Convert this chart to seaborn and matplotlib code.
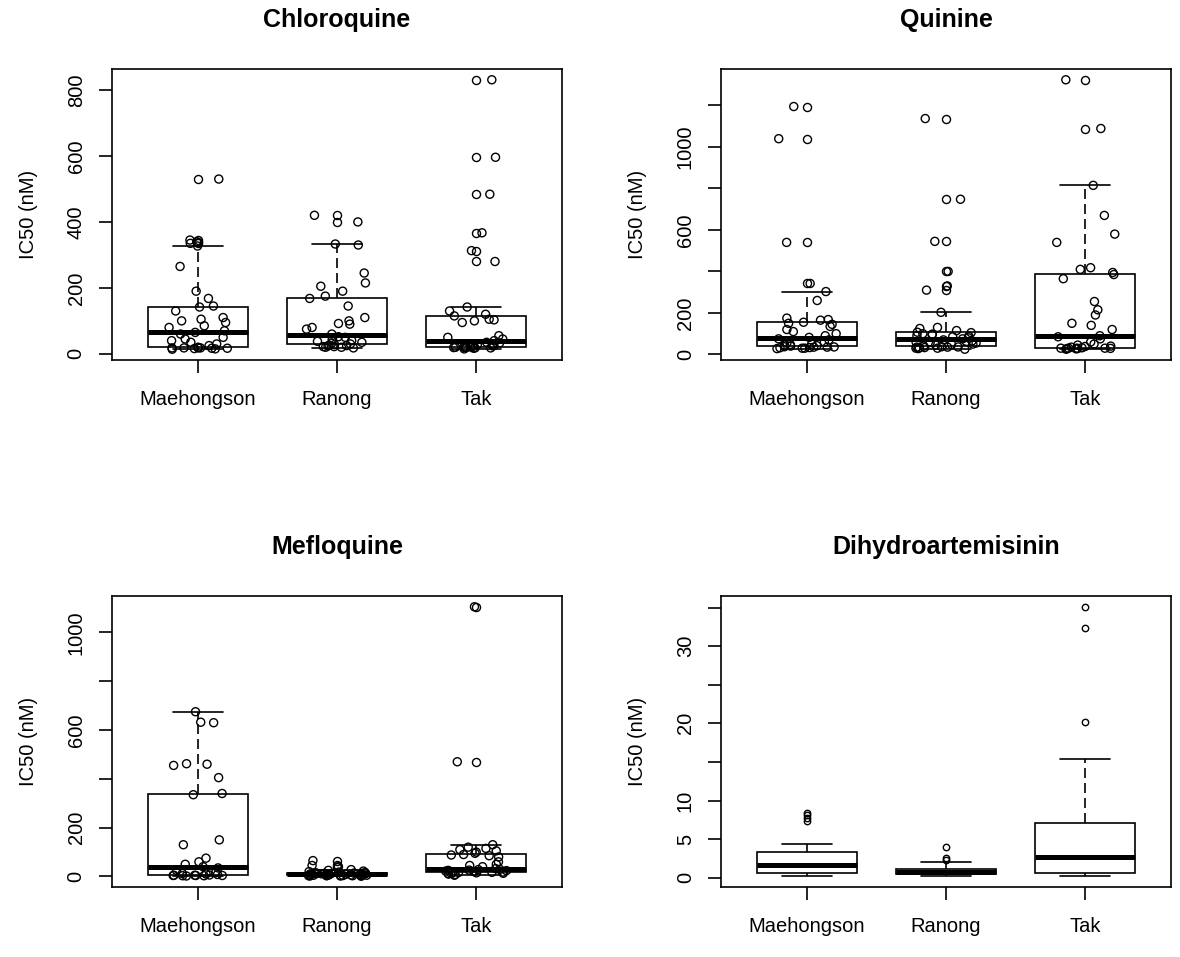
import numpy as np
import pandas as pd
import matplotlib
matplotlib.use("Agg")
import matplotlib.pyplot as plt
import seaborn as sns

sites = ["Maehongson", "Ranong", "Tak"]

# IC50 (nM) per site
cq_maehongson = [14, 15, 16, 17, 17, 18, 18, 18, 18, 20, 25, 30, 35, 40, 45, 50, 60, 65,
                 70, 80, 85, 95, 100, 105, 110, 130, 142, 145, 168, 190, 265, 327, 335, 340, 345, 530]
cq_ranong = [18, 20, 20, 22, 22, 24, 25, 26, 28, 30, 32, 35, 38, 40, 42, 45, 50, 52,
             60, 75, 80, 90, 92, 100, 110, 145, 168, 175, 190, 205, 215, 245, 330, 333, 400, 420]
cq_tak = [15, 17, 18, 18, 19, 19, 20, 20, 20, 21, 22, 24, 25, 27, 28, 30, 33, 35,
          40, 45, 50, 55, 95, 100, 103, 105, 115, 120, 130, 142, 280, 313, 367, 484, 596, 831]

qn_maehongson = [28, 30, 30, 32, 33, 35, 35, 36, 37, 40, 42, 45, 48, 50, 55, 60, 70, 75,
                 82, 90, 100, 110, 120, 135, 145, 150, 155, 165, 168, 175, 260, 303, 342, 540, 1040, 1195]
qn_ranong = [25, 28, 30, 30, 32, 33, 35, 35, 36, 37, 40, 45, 48, 50, 55, 58, 60, 62, 65, 70,
             75, 80, 85, 88, 90, 95, 98, 100, 105, 107, 115, 125, 130, 203, 310, 330, 400, 545, 748, 1137]
qn_tak = [25, 27, 28, 28, 29, 30, 30, 30, 30, 32, 35, 38, 40, 45, 50, 60, 75, 85,
          90, 120, 140, 150, 190, 215, 255, 365, 385, 395, 410, 418, 540, 580, 670, 815, 1089, 1324]

mq_maehongson = [2, 3, 3, 4, 4, 4, 5, 5, 6, 8, 10, 12, 15, 25, 35, 40, 50, 60, 75, 130,
                 150, 335, 340, 405, 455, 460, 462, 630, 632, 675]
mq_ranong = [1, 2, 2, 3, 3, 3, 4, 4, 4, 4, 5, 5, 6, 6, 7, 7, 8, 8, 9, 9,
             10, 10, 11, 11, 12, 12, 13, 13, 14, 14, 15, 16, 18, 20, 22, 25, 28, 40, 45, 65]
mq_tak = [5, 8, 10, 12, 13, 14, 15, 15, 16, 17, 18, 20, 22, 24, 25, 26, 28, 29,
          32, 40, 45, 50, 60, 80, 85, 88, 90, 95, 100, 105, 110, 115, 120, 130, 470, 1105]

dha_maehongson = [0.2, 0.3, 0.4, 0.5, 0.5, 0.6, 0.6, 0.6, 0.7, 0.9, 1.1, 1.2, 1.4, 1.5, 1.6,
                  1.7, 1.8, 2.0, 2.2, 2.5, 2.8, 3.2, 3.3, 3.4, 3.8, 4.4, 7.4, 7.8, 8.1, 8.4]
dha_ranong = [0.25, 0.3, 0.3, 0.35, 0.35, 0.4, 0.4, 0.4, 0.4, 0.45, 0.5, 0.5, 0.55, 0.6, 0.6,
              0.65, 0.7, 0.7, 0.75, 0.8, 0.8, 0.85, 0.9, 0.95, 1.0, 1.0, 1.1, 1.15, 1.2, 1.4,
              1.6, 1.8, 2.1, 2.3, 2.6, 4.0]
dha_tak = [0.25, 0.3, 0.4, 0.45, 0.5, 0.55, 0.6, 0.6, 0.65, 0.8, 1.0, 1.3, 1.7, 2.0, 2.5,
           2.9, 3.3, 3.8, 4.5, 5.0, 6.0, 7.0, 7.2, 8.5, 9.5, 11.0, 15.4, 20.2, 32.3, 35.1]

# y ticks (R drops labels that would overlap)
cq_ticks = [0, 200, 400, 600, 800]
cq_labels = ["0", "200", "400", "600", "800"]
qn_ticks = [0, 200, 400, 600, 800, 1000, 1200]
qn_labels = ["0", "200", "", "600", "", "1000", ""]
mq_ticks = [0, 200, 400, 600, 800, 1000]
mq_labels = ["0", "200", "", "600", "", "1000"]
dha_ticks = [0, 5, 10, 15, 20, 25, 30, 35]
dha_labels = ["0", "5", "10", "", "20", "", "30", ""]

sns.set_theme(style="ticks")
plt.rcParams["font.family"] = ["Liberation Sans", "DejaVu Sans"]
plt.rcParams.update({"text.color": "black", "axes.labelcolor": "black",
                     "xtick.color": "black", "ytick.color": "black",
                     "xtick.labelcolor": "black", "ytick.labelcolor": "black"})
np.random.seed(7)

W, H = 1180, 957
fig = plt.figure(figsize=(W / 100, H / 100), dpi=100)
fig.patch.set_facecolor("white")


def make_ax(left, top, w=450, h=291):
    return fig.add_axes([left / W, 1 - (top + h) / H, w / W, h / H])


def panel(ax, title, groups, ticks, labels, strip, fsize):
    df = pd.DataFrame({
        "site": np.repeat(sites, [len(g) for g in groups]),
        "ic50": np.concatenate([np.asarray(g, float) for g in groups]),
    })
    sns.boxplot(data=df, x="site", y="ic50", order=sites, ax=ax, width=0.72,
                color="white", linecolor="black", linewidth=1.2, whis=1.5,
                flierprops=dict(marker="o", markersize=fsize, markerfacecolor="none",
                                markeredgecolor="black", markeredgewidth=1.0),
                medianprops=dict(linewidth=3.6, color="black"),
                whiskerprops=dict(linestyle=(0, (6, 3))),
                capprops=dict(linestyle="-"))
    if strip:
        sns.stripplot(data=df, x="site", y="ic50", order=sites, ax=ax, jitter=0.22,
                      size=5.8, color="black", linewidth=1.0, edgecolor="black", zorder=5)
        for coll in ax.collections:
            coll.set_facecolor("none")

    vals = df["ic50"]
    pad = 0.04 * (vals.max() - vals.min())
    ax.set_ylim(vals.min() - pad, vals.max() + pad)
    ax.set_xlim(-0.62, 2.62)
    ax.set_yticks(ticks)
    ax.set_yticklabels(labels, rotation=90, va="center")
    ax.set_xlabel("")
    ax.set_ylabel("IC50 (nM)", fontsize=14.5, color="black")
    ax.yaxis.set_label_coords(-0.165, 0.5)
    ax.set_title(title, fontsize=18, fontweight="bold", pad=30, color="black")
    ax.tick_params(axis="x", length=9.4, width=1.2, pad=12, labelsize=14.5,
                   color="black", labelcolor="black")
    ax.tick_params(axis="y", length=9.4, width=1.2, pad=9.5, labelsize=14.5,
                   color="black", labelcolor="black")
    for s in ax.spines.values():
        s.set_visible(True)
        s.set_color("black")
        s.set_linewidth(1.2)
    ax.set_facecolor("white")
    ax.grid(False)


panel(make_ax(112, 69), "Chloroquine", [cq_maehongson, cq_ranong, cq_tak],
      cq_ticks, cq_labels, True, 5.8)
panel(make_ax(721, 69), "Quinine", [qn_maehongson, qn_ranong, qn_tak],
      qn_ticks, qn_labels, True, 5.8)
panel(make_ax(112, 596), "Mefloquine", [mq_maehongson, mq_ranong, mq_tak],
      mq_ticks, mq_labels, True, 5.8)
panel(make_ax(721, 596), "Dihydroartemisinin", [dha_maehongson, dha_ranong, dha_tak],
      dha_ticks, dha_labels, False, 4.6)

fig.savefig("out.png", dpi=100, facecolor="white")
